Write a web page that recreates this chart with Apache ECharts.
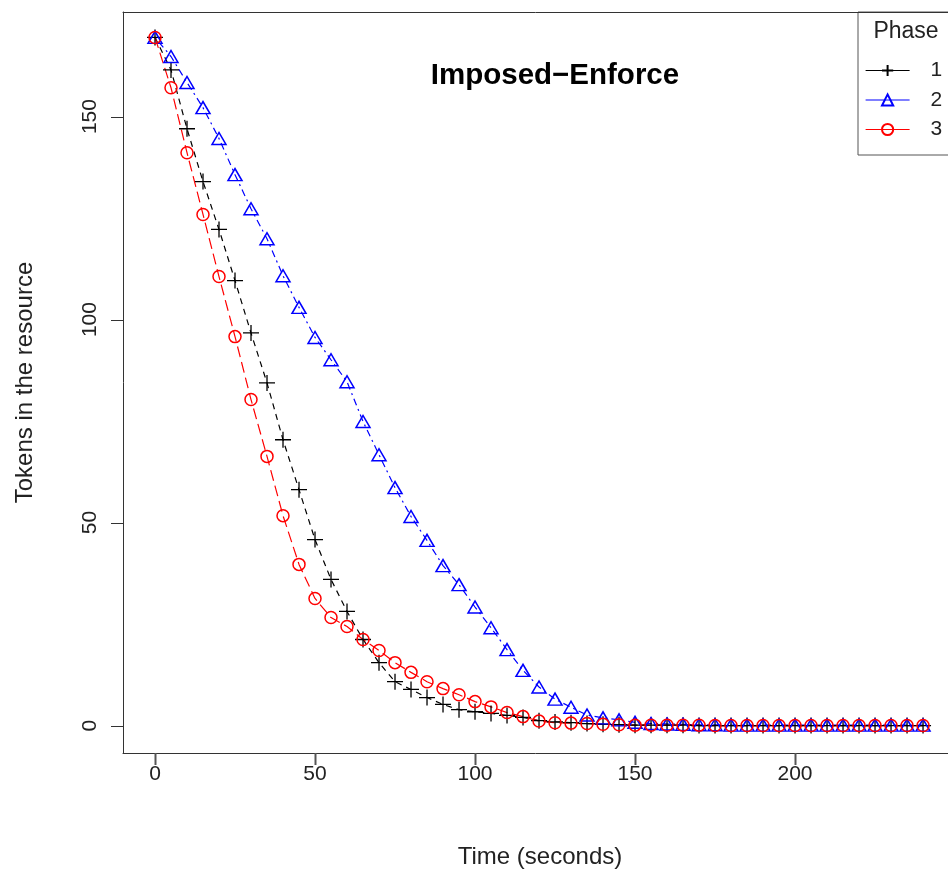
<!DOCTYPE html>
<html>
<head>
<meta charset="utf-8">
<script src="https://cdn.jsdelivr.net/npm/echarts@6/dist/echarts.min.js"></script>
<style>html,body{margin:0;padding:0;background:#fff}#c{width:948px;height:876px}</style>
</head>
<body>
<div id="c"></div>
<script>
var times = [0,5,10,15,20,25,30,35,40,45,50,55,60,65,70,75,80,85,90,95,100,105,110,115,120,125,130,135,140,145,150,155,160,165,170,175,180,185,190,195,200,205,210,215,220,225,230,235,240];
var phase1 = [169.5,161.5,147,134,122.2,109.6,96.7,84.4,70.4,58.1,45.8,36.0,28.1,21.2,15.5,10.8,8.9,6.9,5.2,3.9,3.4,3.0,2.5,2.0,1.2,0.9,0.7,0.5,0.3,0.2,0.1,0.1,0.1,0.1,0,0,0,0,0,0,0,0,0,0,0,0,0,0,0];
var phase2 = [169.5,164.8,158.4,152.2,144.6,135.7,127.3,119.9,110.8,103.0,95.6,90.1,84.7,74.9,66.7,58.6,51.5,45.6,39.4,34.7,29.2,24.1,18.7,13.6,9.5,6.5,4.5,2.6,1.9,1.4,0.8,0.5,0.4,0.3,0.2,0.2,0.1,0.1,0.1,0.1,0.1,0.1,0.1,0.1,0.1,0.1,0.1,0.1,0.1];
var phase3 = [169.5,157.1,141.1,125.9,110.6,95.8,80.3,66.3,51.7,39.7,31.3,26.6,24.4,21.2,18.5,15.5,13.1,10.8,9.1,7.6,5.9,4.6,3.2,2.2,1.1,0.7,0.6,0.5,0.3,0.2,0.1,0.1,0.1,0.1,0.1,0,0,0,0,0,0,0,0,0,0,0,0,0,0];
var seriesNames = ['1','2','3'];
var xTicks = [0,50,100,150,200];
var yTicks = [0,50,100,150];

function pairs(v){ return times.map(function(t,i){ return [t, v[i]]; }); }
var FONT = 'Liberation Sans';
var AX = '#333';
var X_MIN = -10, X_MAX = 247.8, Y_MIN = -6.76, Y_MAX = 175.76;
var staticGraphic = [
  {id:'legbox', type:'rect', shape:{x:858, y:12, width:120, height:143}, style:{fill:'#fff', stroke:'#555', lineWidth:1}, z:-1},
  {id:'legtitle', type:'text', x:906, y:32, style:{text:'Phase', font:'23px "Liberation Sans"', fill:'#222', textAlign:'center', textVerticalAlign:'middle'}}
];
var chart = echarts.init(document.getElementById('c'), null, {renderer:'canvas'});
chart.setOption({
  animation:false,
  backgroundColor:'#fff',
  textStyle:{fontFamily:FONT},
  title:{text:'Imposed\u2212Enforce', left:550, textAlign:'center', top:56,
    textStyle:{fontFamily:FONT, fontSize:29.5, fontWeight:'bold', color:'#000'}},
  grid:{left:123, top:12, right:0, height:741, show:false},
  xAxis:[{type:'value', min:X_MIN, max:X_MAX, position:'bottom',
    name:'Time (seconds)', nameLocation:'middle', nameGap:92,
    nameTextStyle:{fontFamily:FONT, fontSize:24, color:'#222', padding:[0,0,0,9]},
    axisLine:{show:true, onZero:false, lineStyle:{color:AX, width:1}},
    axisTick:{show:false},
    axisLabel:{customValues:xTicks, margin:11, fontSize:21, color:'#222', fontFamily:FONT},
    splitLine:{show:false}},
   {type:'value', min:X_MIN, max:X_MAX, position:'top',
    axisLine:{show:true, onZero:false, lineStyle:{color:AX, width:1}},
    axisTick:{show:false}, axisLabel:{show:false}, splitLine:{show:false}}],
  yAxis:{type:'value', min:Y_MIN, max:Y_MAX,
    name:'Tokens in the resource', nameLocation:'middle', nameGap:86,
    nameTextStyle:{fontFamily:FONT, fontSize:24, color:'#222'},
    axisLine:{show:true, onZero:false, lineStyle:{color:AX, width:1}},
    axisTick:{show:false},
    axisLabel:{customValues:yTicks, rotate:90, margin:22, fontSize:21, color:'#222', fontFamily:FONT},
    splitLine:{show:false}},
  legend:{orient:'vertical', left:860, top:55, itemWidth:44, itemHeight:14, itemGap:8.5,
    data:seriesNames, textStyle:{fontFamily:FONT, fontSize:21, color:'#222', padding:[0,0,0,16]},
    lineStyle:{type:'solid', width:1.2}},
  graphic:staticGraphic,
  series:[
    {name:'1', type:'line', data:pairs(phase1), symbol:'path://M0,5L10,5M5,0L5,10', symbolSize:16,
     lineStyle:{color:'#000', width:1.2, type:[6,5]}, itemStyle:{color:'rgba(0,0,0,0)', borderColor:'#000', borderWidth:1.3}},
    {name:'2', type:'line', data:pairs(phase2), symbol:'triangle', symbolSize:[14,12],
     lineStyle:{color:'#0000ff', width:1.2, type:[2,4,7,4]}, itemStyle:{color:'rgba(0,0,0,0)', borderColor:'#0000ff', borderWidth:1.5}},
    {name:'3', type:'line', data:pairs(phase3), symbol:'circle', symbolSize:12,
     lineStyle:{color:'#ff0000', width:1.2, type:[11,5]}, itemStyle:{color:'rgba(0,0,0,0)', borderColor:'#ff0000', borderWidth:1.5}}
  ]
});
// axis ticks positioned through the library's own scales
var TICK = 12;
var corner = chart.convertToPixel({gridIndex:0}, [X_MIN, Y_MIN]);
var axX = corner[0], axY = corner[1];
var ticks = [];
xTicks.forEach(function(v,i){
  var p = chart.convertToPixel({gridIndex:0}, [v, Y_MIN]);
  var px = Math.round(p[0]);
  ticks.push({id:'xt'+i, type:'rect', z:10, shape:{x:px-0.5, y:axY, width:2, height:TICK}, style:{fill:'#555'}, silent:true});
});
yTicks.forEach(function(v,i){
  var p = chart.convertToPixel({gridIndex:0}, [X_MIN, v]);
  var py = Math.round(p[1]);
  ticks.push({id:'yt'+i, type:'rect', z:10, shape:{x:axX-TICK, y:py, width:TICK, height:1}, style:{fill:AX}, silent:true});
});
chart.setOption({graphic: staticGraphic.concat(ticks)});
</script>
</body>
</html>
